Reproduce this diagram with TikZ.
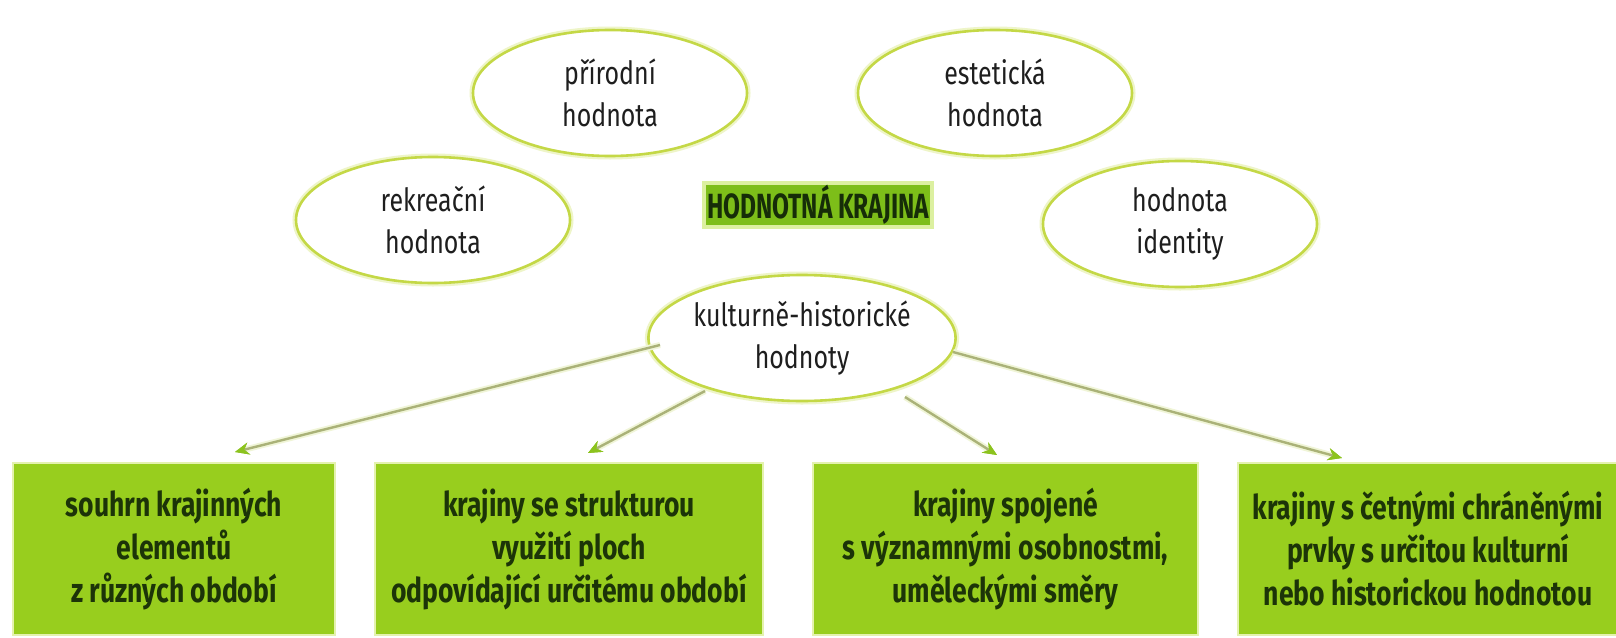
\documentclass[tikz,border=0pt]{standalone}
\usepackage{fontspec}
\setmainfont[FakeStretch=0.78]{Fira Sans}
\newfontfamily\boxfont[FakeStretch=0.78]{Fira Sans}
\newfontfamily\titlefont[FakeStretch=0.7]{Fira Sans}
\usetikzlibrary{shapes.geometric,arrows.meta}
\definecolor{boxgreen}{RGB}{152,206,30}
\definecolor{boxtext}{RGB}{28,52,8}
\definecolor{boxglow}{RGB}{228,242,175}
\definecolor{ovalline}{RGB}{196,216,70}
\definecolor{ovalglow}{RGB}{238,245,200}
\definecolor{ovaltext}{RGB}{30,30,30}
\definecolor{arrowline}{RGB}{170,178,120}
\definecolor{arrowglow}{RGB}{240,245,215}
\definecolor{tipgreen}{RGB}{140,195,30}
\definecolor{titlegreen}{RGB}{125,190,25}
\definecolor{titletext}{RGB}{22,45,8}
\definecolor{titleglow}{RGB}{220,240,160}
\begin{document}
\begin{tikzpicture}[x=0.5pt,y=-0.5pt,
  oval/.style={ellipse, draw=ovalline, line width=1.3pt, fill=white,
    minimum width=137pt, minimum height=63pt, align=center, inner sep=0pt,
    font=\fontsize{16}{21}\selectfont, text=ovaltext,
    preaction={draw=ovalglow, line width=3.5pt}},
  greenbox/.style={rectangle, fill=boxgreen, draw=boxglow, line width=1pt,
    minimum height=86pt, align=center, inner sep=0pt,
    font=\boxfont\bfseries\fontsize{17}{21.5}\selectfont, text=boxtext},
  titlebox/.style={rectangle, fill=titlegreen, draw=titleglow, line width=2pt,
    inner xsep=1.5pt, inner ysep=1pt,
    font=\titlefont\bfseries\fontsize{17.5}{17.5}\selectfont, text=titletext},
  link/.style={draw=arrowline, line width=1.2pt,
    -{Stealth[length=7pt,width=6pt,color=tipgreen]},
    preaction={draw=arrowglow, line width=3pt}}
]
\useasboundingbox (0,0) rectangle (1616,637);
\fill[white] (0,0) rectangle (1616,637);

% ovals
\node[oval] (prir) at (610,93) {přírodní\\hodnota};
\node[oval] (este) at (995,93) {estetická\\hodnota};
\node[oval] (rekr) at (433,220) {rekreační\\hodnota};
\node[oval] (iden) at (1180,224) {hodnota\\identity};
\node[oval, minimum width=140pt] (kult) at (802,338) {kulturně-historické\\hodnoty};

% title
\node[titlebox] (title) at (818,205) {HODNOTNÁ KRAJINA};

% boxes
\node[greenbox, minimum width=161pt] (b1) at (174,549) {souhrn krajinných\\elementů\\z různých období};
\node[greenbox, minimum width=194pt] (b2) at (569,549) {krajiny se strukturou\\využití ploch\\odpovídající určitému období};
\node[greenbox, minimum width=192.5pt] (b3) at (1005.5,549) {krajiny spojené\\s významnými osobnostmi,\\uměleckými směry};
\node[greenbox, minimum width=190pt] (b4) at (1428,549) {krajiny s četnými chráněnými\\prvky s určitou kulturní\\nebo historickou hodnotou};

% arrow ends
\coordinate (s1) at (660,345);
\coordinate (e1) at (235,452);
\coordinate (s2) at (705,391);
\coordinate (e2) at (588,453);
\coordinate (s3) at (905,397);
\coordinate (e3) at (997,455);
\coordinate (s4) at (953,352);
\coordinate (e4) at (1342,458);

\draw[link] (s1) -- (e1);
\draw[link] (s2) -- (e2);
\draw[link] (s3) -- (e3);
\draw[link] (s4) -- (e4);
\end{tikzpicture}
\end{document}
